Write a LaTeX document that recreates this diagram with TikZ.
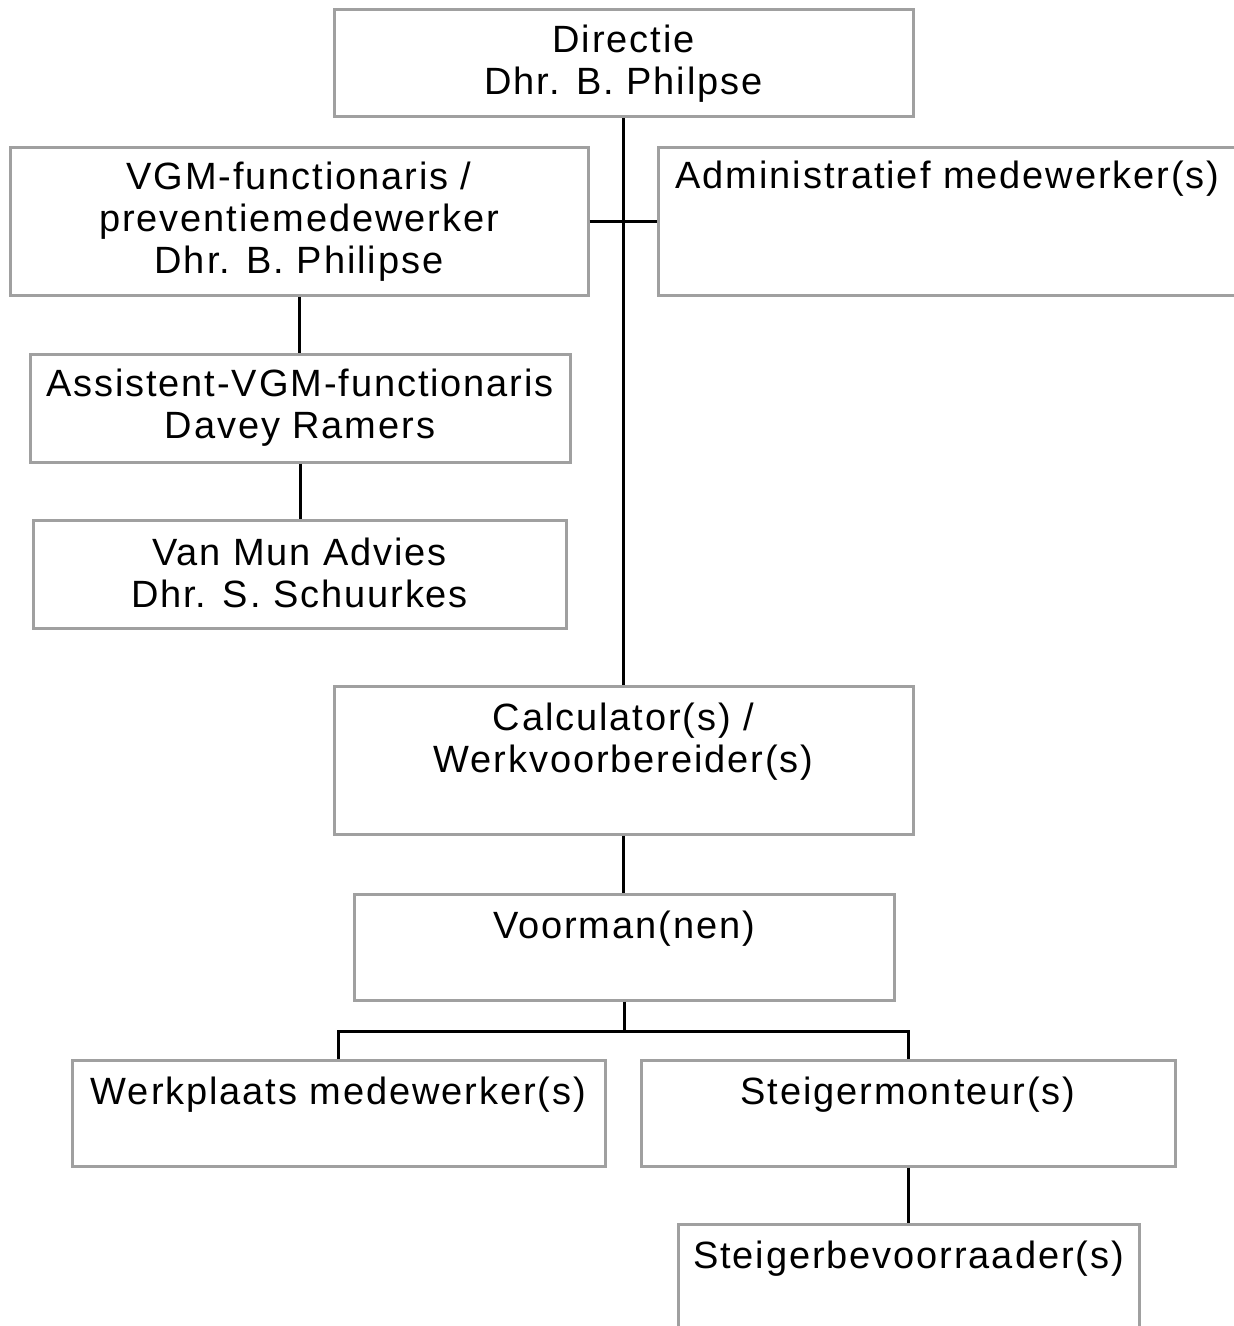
\documentclass[tikz,border=0pt]{standalone}
\usepackage{fontspec}
\setmainfont[LetterSpace=5]{Liberation Sans}
\usetikzlibrary{positioning, calc}
\definecolor{boxgray}{HTML}{A0A0A0}
\newcommand\boxstrut{\rule[-1pt]{0pt}{21pt}}

\begin{document}
\begin{tikzpicture}[x=0.5pt, y=-0.5pt,
    box/.style={draw=boxgray, line width=1.5pt, align=center, inner sep=0pt,
        font=\fontsize{19}{21}\selectfont,
        execute at begin node=\boxstrut, execute at end node=\boxstrut},
    link/.style={black, line width=1.5pt}]
    \useasboundingbox (0,0) rectangle (1234,1326);

    % top: management and staff
    \node[box, minimum width=289.5pt, minimum height=53.5pt] (dir) at (623.5,63.5)
        {Directie\\Dhr. B. Philpse};
    \node[box, minimum width=289pt, minimum height=74pt] (vgm) at (299,222)
        {VGM-functionaris /\\preventiemedewerker\\Dhr. B. Philipse};
    \node[box, minimum width=289.5pt, minimum height=74pt] (adm) at (947.5,222)
        {Administratief medewerker(s)\\\boxstrut\\};
    \node[box, minimum width=270pt, minimum height=54pt] (asst) at (300,408)
        {Assistent-VGM-functionaris\\Davey Ramers};
    \node[box, minimum width=266.5pt, minimum height=54pt] (vmun) at (299.5,574)
        {Van Mun Advies\\Dhr. S. Schuurkes};

    % middle: office and foremen
    \node[box, minimum width=289.5pt, minimum height=74pt] (calc) at (623.5,760)
        {Calculator(s) /\\Werkvoorbereider(s)\\};
    \node[box, minimum width=270pt, minimum height=53pt] (voor) at (624,947)
        {Voorman(nen)\\};

    % bottom: workshop and scaffolding crew
    \node[box, minimum width=266.5pt, minimum height=53pt] (werk) at (338.5,1113)
        {Werkplaats medewerker(s)\\};
    \node[box, minimum width=267pt, minimum height=53pt] (stm) at (908,1113)
        {Steigermonteur(s)\\};
    \node[box, minimum width=230.5pt, minimum height=53pt] (stb) at (908.5,1277)
        {Steigerbevoorraader(s)\\};

    % connectors
    \draw[link] (dir.south) -- (calc.north);
    \draw[link] (vgm.east) -- (adm.west);
    \draw[link] (vgm.south) -- (vgm.south |- asst.north);
    \draw[link] (asst.south) -- (asst.south |- vmun.north);
    \draw[link] (calc.south) -- (calc.south |- voor.north);
    \coordinate (fork) at ($(voor.south)+(0,30)$);
    \draw[link] (voor.south) -- (fork);
    \draw[link] (werk.north) |- (fork) -| (stm.north);
    \draw[link] (stm.south) -- (stm.south |- stb.north);
\end{tikzpicture}
\end{document}
